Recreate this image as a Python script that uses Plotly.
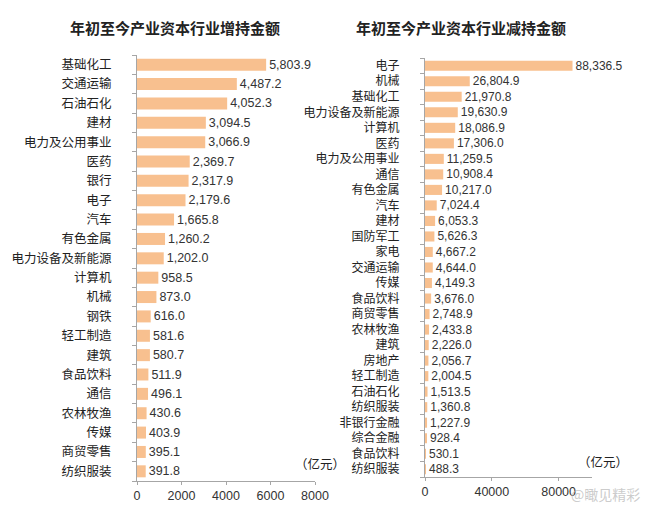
import plotly.graph_objects as go

# 增持
buy_names = ['基础化工', '交通运输', '石油石化', '建材', '电力及公用事业', '医药', '银行', '电子',
             '汽车', '有色金属', '电力设备及新能源', '计算机', '机械', '钢铁', '轻工制造', '建筑',
             '食品饮料', '通信', '农林牧渔', '传媒', '商贸零售', '纺织服装']
buy_vals = [5803.9, 4487.2, 4052.3, 3094.5, 3066.9, 2369.7, 2317.9, 2179.6, 1665.8, 1260.2,
            1202.0, 958.5, 873.0, 616.0, 581.6, 580.7, 511.9, 496.1, 430.6, 403.9, 395.1, 391.8]

# 减持 (原图中有重复的行业名)
sell_names = ['电子', '机械', '基础化工', '电力设备及新能源', '计算机', '医药', '电力及公用事业',
              '通信', '有色金属', '汽车', '建材', '国防军工', '家电', '交通运输', '传媒', '食品饮料',
              '商贸零售', '农林牧渔', '建筑', '房地产', '轻工制造', '石油石化', '纺织服装',
              '非银行金融', '综合金融', '食品饮料', '纺织服装']
sell_vals = [88336.5, 26804.9, 21970.8, 19630.9, 18086.9, 17306.0, 11259.5, 10908.4, 10217.0,
             7024.4, 6053.3, 5626.3, 4667.2, 4644.0, 4149.3, 3676.0, 2748.9, 2433.8, 2226.0,
             2056.7, 2004.5, 1513.5, 1360.8, 1227.9, 928.4, 530.1, 488.3]

buy_ticks = [0, 2000, 4000, 6000, 8000]
sell_ticks = [0, 40000, 80000]

BAR = '#F8C08F'
AXIS = '#A6A6A6'
FONT = 'Liberation Sans, Noto Sans CJK SC, sans-serif'
CJK = 'Noto Sans CJK SC, sans-serif'

# page body has an 8px margin, so work in a 642x503 canvas
W, H, OFF = 642, 503, 8


def px(x):
    return (x - OFF) / W


def py(y):
    return 1 - (y - OFF) / H


fig = go.Figure()

buy_pos = list(range(len(buy_names)))
sell_pos = list(range(len(sell_names)))

fig.add_trace(go.Bar(
    x=buy_vals, y=buy_pos, orientation='h', width=0.62,
    marker=dict(color=BAR, line=dict(width=0)),
    texttemplate='%{x:,.1f}', textposition='outside', cliponaxis=False, constraintext='none',
    textfont=dict(family=FONT, size=12.5, color='#333333'),
    xaxis='x', yaxis='y', hoverinfo='skip'))

fig.add_trace(go.Bar(
    x=sell_vals, y=sell_pos, orientation='h', width=0.65,
    marker=dict(color=BAR, line=dict(width=0)),
    texttemplate='%{x:,.1f}', textposition='outside', cliponaxis=False, constraintext='none',
    textfont=dict(family=FONT, size=12, color='#333333'),
    xaxis='x2', yaxis='y2', hoverinfo='skip'))

xcommon = dict(showgrid=False, zeroline=False, showline=True, linecolor=AXIS, linewidth=1,
               ticks='outside', ticklen=3, tickcolor=AXIS, automargin=False, tickformat='d',
               tickfont=dict(family=FONT, size=12.5, color='#333333'))
ycommon = dict(showgrid=False, zeroline=False, showline=True, linecolor=AXIS, linewidth=1,
               ticks='', ticklabelstandoff=22, automargin=False,
               minor=dict(ticks='outside', ticklen=4, tickcolor=AXIS, tick0=-0.5, dtick=1))

fig.update_layout(
    width=W, height=H,
    margin=dict(l=0, r=0, t=0, b=0),
    paper_bgcolor='white', plot_bgcolor='white',
    showlegend=False,
    xaxis=dict(domain=[px(137), px(315)], range=[0, 8000], tickvals=buy_ticks,
               anchor='y', **xcommon),
    yaxis=dict(domain=[py(481), py(55)], range=[len(buy_names) - 0.5, -0.5],
               tickvals=buy_pos, ticktext=buy_names, anchor='x',
               tickfont=dict(family=CJK, size=12.5, color='#222222'), **ycommon),
    xaxis2=dict(domain=[px(425), px(592)], range=[0, 100000], tickvals=sell_ticks,
                anchor='y2', **xcommon),
    yaxis2=dict(domain=[py(477), py(58)], range=[len(sell_names) - 0.5, -0.5],
                tickvals=sell_pos, ticktext=sell_names, anchor='x2',
                tickfont=dict(family=CJK, size=12, color='#222222'), **ycommon),
)

ann = dict(xref='paper', yref='paper', showarrow=False, xanchor='center', yanchor='middle')
fig.add_annotation(text='<b>年初至今产业资本行业增持金额</b>', x=px(175), y=py(27),
                   font=dict(family=CJK, size=15, color='#222222'), **ann)
fig.add_annotation(text='<b>年初至今产业资本行业减持金额</b>', x=px(461), y=py(27),
                   font=dict(family=CJK, size=15, color='#222222'), **ann)
fig.add_annotation(text='（亿元）', x=px(320), y=py(463),
                   font=dict(family=CJK, size=12.5, color='#222222'), **ann)
fig.add_annotation(text='（亿元）', x=px(603), y=py(461),
                   font=dict(family=CJK, size=12.5, color='#222222'), **ann)
fig.add_annotation(text='@瞰见精彩', x=px(605), y=py(494),
                   font=dict(family=CJK, size=14, color='rgba(190,190,190,0.8)'), **ann)

fig.write_html('out.html')
